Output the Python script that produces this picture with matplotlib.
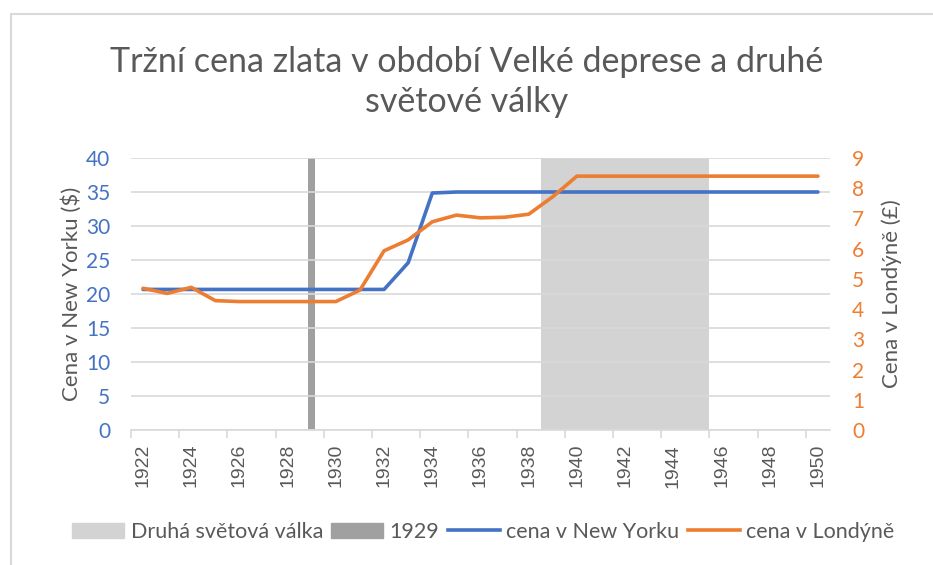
import matplotlib
matplotlib.use("Agg")
import matplotlib.pyplot as plt
from matplotlib.patches import Patch, Rectangle
from matplotlib.lines import Line2D

# data
years = list(range(1922, 1951))
ny_price = [20.67, 20.67, 20.67, 20.67, 20.67, 20.67, 20.67, 20.67, 20.67, 20.67,
            20.67, 24.6, 34.85, 35.0, 35.0, 35.0, 35.0, 35.0, 35.0, 35.0,
            35.0, 35.0, 35.0, 35.0, 35.0, 35.0, 35.0, 35.0, 35.0]
london_price = [4.69, 4.52, 4.72, 4.28, 4.25, 4.25, 4.25, 4.25, 4.25, 4.63,
                5.93, 6.29, 6.89, 7.11, 7.02, 7.04, 7.14, 7.72, 8.40, 8.40,
                8.40, 8.40, 8.40, 8.40, 8.40, 8.40, 8.40, 8.40, 8.40]
ww2 = [40 if 1939 <= y <= 1945 else 0 for y in years]
crash = [40 if y == 1929 else 0 for y in years]

blue = '#4472C4'
orange = '#ED7D31'
text_grey = '#595959'
grid_grey = '#D9D9D9'
font = 'Lato'

fig = plt.figure(figsize=(9.33, 5.65), dpi=100)
fig.patches.append(Rectangle((11 / 933, -0.1), 1.2, (565 - 14) / 565 + 0.1,
                             transform=fig.transFigure, fill=False,
                             edgecolor=grid_grey, linewidth=1.5))

ax = fig.add_axes([131 / 933, 1 - 430 / 565, (830 - 131) / 933, (430 - 158) / 565])
x = list(range(len(years)))

ax.bar(x, ww2, width=1.0, color='#D3D3D3', zorder=0.3)
ax.bar(x, crash, width=0.3, color='#A0A0A0', zorder=0.3)
ax.plot(x, ny_price, color=blue, linewidth=2.6, zorder=3, solid_capstyle='round')

ax.set_ylim(0, 40)
ax.set_yticks(range(0, 41, 5))
ax.set_xlim(-0.5, len(years) - 0.5)
ax.yaxis.grid(True, color=grid_grey, linewidth=1.2, zorder=0.5)
ax.set_axisbelow(True)

ax.set_xticks(x[::2])
ax.set_xticklabels([str(y) for y in years[::2]], rotation=90)
ax.set_xticks([i - 0.5 for i in range(0, len(years) + 1, 2)], minor=True)
ax.tick_params(axis='x', which='major', length=0, pad=10, labelsize=14,
               labelcolor=text_grey)
for lab in ax.get_xticklabels():
    lab.set_family('Liberation Sans')
ax.tick_params(axis='x', which='minor', length=6, color=grid_grey, width=1.2)
ax.tick_params(axis='y', length=0, pad=15, labelcolor=blue, labelsize=15)
for lab in ax.get_yticklabels():
    lab.set_family(font)

for side in ['top', 'right', 'left']:
    ax.spines[side].set_visible(False)
ax.spines['bottom'].set_color(grid_grey)
ax.spines['bottom'].set_linewidth(1.2)

ax.set_ylabel('Cena v New Yorku ($)', fontsize=16, color=text_grey, family=font, labelpad=3)

ax2 = ax.twinx()
ax2.plot(x, london_price, color=orange, linewidth=2.6, solid_capstyle='round')
ax2.set_ylim(0, 9)
ax2.set_yticks(range(0, 10))
ax2.tick_params(axis='y', length=0, pad=16, labelcolor=orange, labelsize=15)
for lab in ax2.get_yticklabels():
    lab.set_family(font)
for side in ['top', 'right', 'left', 'bottom']:
    ax2.spines[side].set_visible(False)
ax2.set_ylabel('Cena v Londýně (£)', fontsize=16, color=text_grey, family=font, labelpad=12)

fig.text(0.5, 1 - 82 / 565, 'Tržní cena zlata v období Velké deprese a druhé\nsvětové války',
         ha='center', va='center', fontsize=24.5, color=text_grey, family=font,
         linespacing=1.3)

handles = [Patch(color='#D3D3D3'), Patch(color='#A0A0A0'),
           Line2D([], [], color=blue, linewidth=2.6),
           Line2D([], [], color=orange, linewidth=2.6)]
labels = ['Druhá světová válka', '1929', 'cena v New Yorku', 'cena v Londýně']
fig.legend(handles, labels, loc='center', bbox_to_anchor=(0.518, 1 - 532 / 565), ncol=4,
           frameon=False, handlelength=2.4, handletextpad=0.3, columnspacing=0.4,
           prop={'family': font, 'size': 15.5}, labelcolor=text_grey)

fig.savefig('out.png', dpi=100)
